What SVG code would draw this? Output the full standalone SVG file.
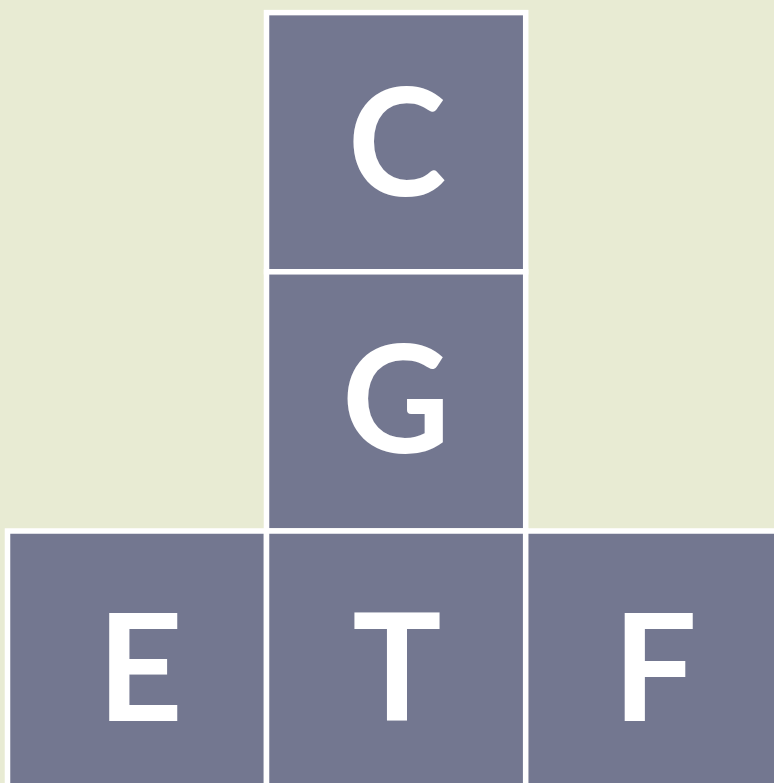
<svg xmlns="http://www.w3.org/2000/svg" width="774" height="783" viewBox="0 0 774 783">
<style>
.cell{fill:#737790;stroke:#ffffff;stroke-width:5.5}
.lbl{fill:#ffffff;font-family:Lato,"Open Sans","Liberation Sans",sans-serif;font-weight:700;font-size:149px;text-anchor:middle}
</style>
<rect width="774" height="783" fill="#e8ebd3"/>
<g id="node-C"><rect class="cell" x="266.5" y="12.6" width="259.2" height="259.2"/><text class="lbl" x="397" y="196">C</text></g>
<g id="node-G"><rect class="cell" x="266.5" y="271.8" width="259.2" height="259.2"/><text class="lbl" x="396" y="453">G</text></g>
<g id="node-E"><rect class="cell" x="7.5" y="531" width="259" height="259.2"/><text class="lbl" x="140" y="721">E</text></g>
<g id="node-T"><rect class="cell" x="266.5" y="531" width="259.2" height="259.2"/><text class="lbl" x="397" y="721">T</text></g>
<g id="node-F"><rect class="cell" x="525.7" y="531" width="259.2" height="259.2"/><text class="lbl" x="655" y="721">F</text></g>
<g id="connectors"></g>
</svg>
